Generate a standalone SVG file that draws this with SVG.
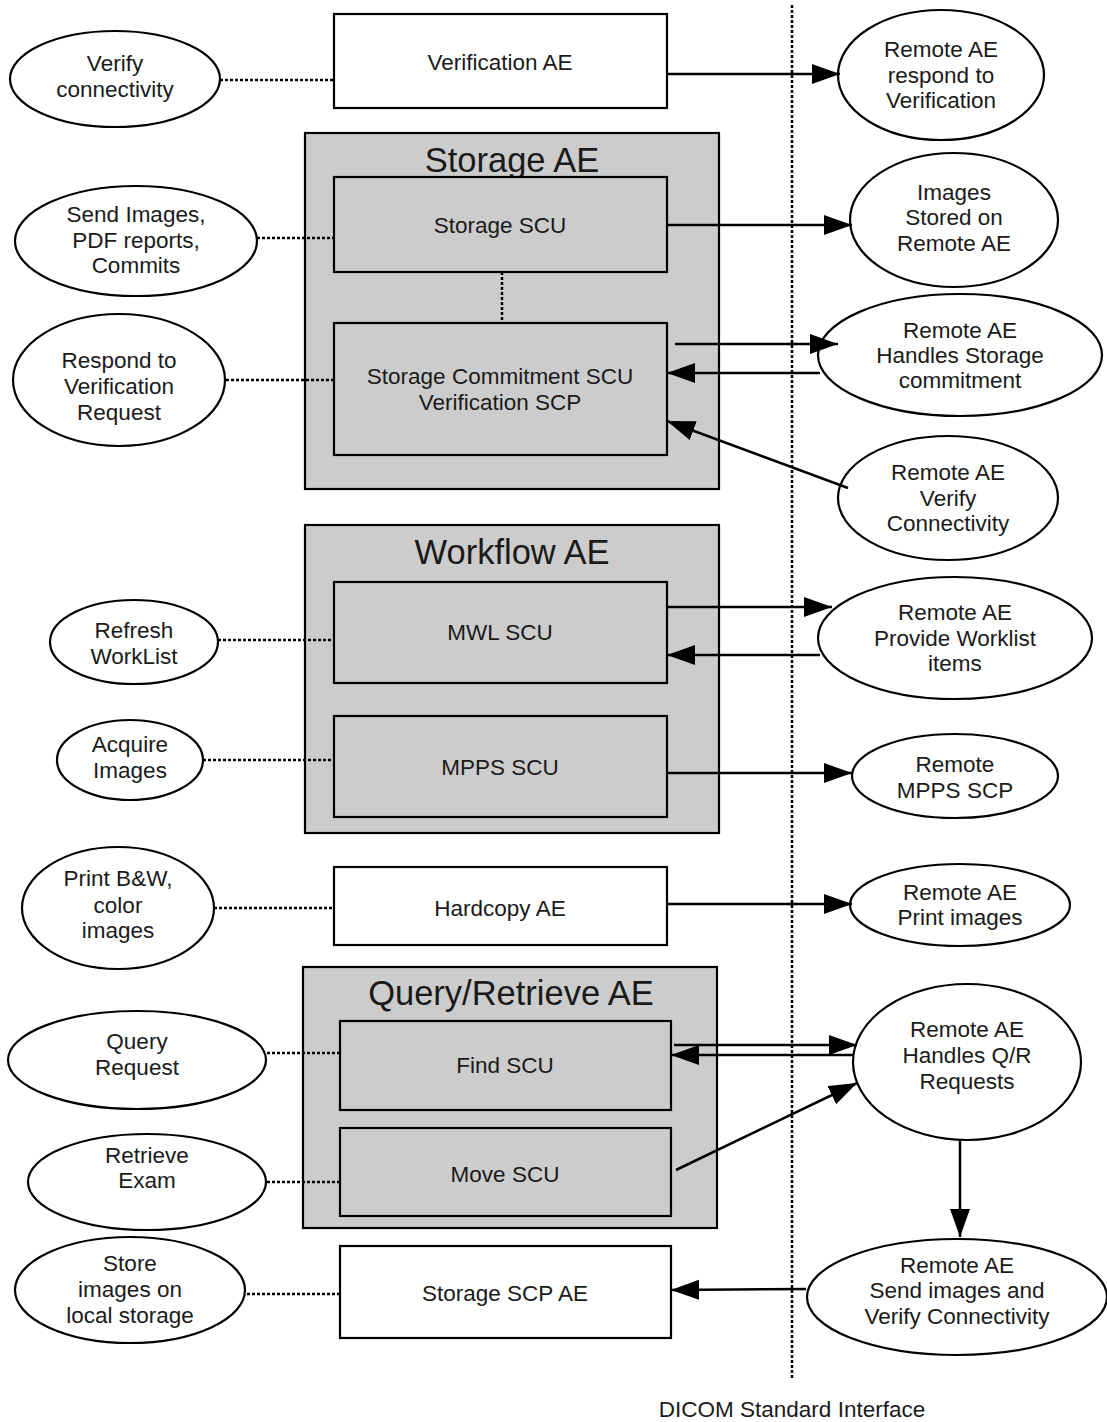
<svg xmlns="http://www.w3.org/2000/svg" width="1107" height="1422" viewBox="0 0 1107 1422">
<style>
text{font-family:"Liberation Sans",Arial,sans-serif;font-size:22.5px;fill:#1a1a1a;text-anchor:middle}
.t{font-size:34.5px}
.box{fill:#fff;stroke:#000;stroke-width:2.2}
.grp{fill:#cccccc;stroke:#000;stroke-width:2.2}
.sub{fill:#cccccc;stroke:#000;stroke-width:2.2}
ellipse{fill:#fff;stroke:#000;stroke-width:2.2}
.dot{stroke:#000;stroke-width:2.5;stroke-dasharray:3 2;fill:none}
.arr{stroke:#000;stroke-width:2.5;fill:none;marker-end:url(#ah)}
</style>
<defs>
<marker id="ah" markerUnits="userSpaceOnUse" markerWidth="30" markerHeight="22" refX="28" refY="10" orient="auto">
<path d="M0,0 L28,10 L0,20 Z" fill="#000"/>
</marker>
</defs>
<rect width="1107" height="1422" fill="#fff"/>

<g id="interface-line">
<line x1="792" y1="5" x2="792" y2="1378" class="dot"/>
<text x="792" y="1417">DICOM Standard Interface</text>
</g>

<g id="verification-ae"><rect class="box" x="334" y="14" width="333" height="94"/><text x="500" y="70">Verification AE</text></g>
<g id="verify-connectivity"><ellipse cx="115" cy="79" rx="105" ry="48"/><text x="115" y="71">Verify</text><text x="115" y="97">connectivity</text></g>
<g id="remote-verification"><ellipse cx="941" cy="75" rx="103" ry="65"/><text x="941" y="57">Remote AE</text><text x="941" y="83">respond to</text><text x="941" y="108">Verification</text></g>

<g id="storage-ae"><rect class="grp" x="305" y="133" width="414" height="356"/><text class="t" x="512" y="172">Storage AE</text></g>
<g id="storage-scu"><rect class="sub" x="334" y="177" width="333" height="95"/><text x="500" y="233">Storage SCU</text></g>
<g id="storage-commit"><rect class="sub" x="334" y="323" width="333" height="132"/><text x="500" y="384">Storage Commitment SCU</text><text x="500" y="410">Verification SCP</text></g>
<g id="send-images"><ellipse cx="136" cy="241" rx="121" ry="55"/><text x="136" y="222">Send Images,</text><text x="136" y="248">PDF reports,</text><text x="136" y="273">Commits</text></g>
<g id="respond-verification"><ellipse cx="119" cy="380" rx="106" ry="66"/><text x="119" y="368">Respond to</text><text x="119" y="394">Verification</text><text x="119" y="420">Request</text></g>
<g id="images-stored"><ellipse cx="954" cy="220" rx="104" ry="67"/><text x="954" y="200">Images</text><text x="954" y="225">Stored on</text><text x="954" y="251">Remote AE</text></g>
<g id="remote-commit"><ellipse cx="960" cy="355" rx="142" ry="61"/><text x="960" y="338">Remote AE</text><text x="960" y="363">Handles Storage</text><text x="960" y="388">commitment</text></g>
<g id="remote-verify"><ellipse cx="948" cy="498" rx="110" ry="62"/><text x="948" y="480">Remote AE</text><text x="948" y="506">Verify</text><text x="948" y="531">Connectivity</text></g>

<g id="workflow-ae"><rect class="grp" x="305" y="525" width="414" height="308"/><text class="t" x="512" y="564">Workflow AE</text></g>
<g id="mwl-scu"><rect class="sub" x="334" y="582" width="333" height="101"/><text x="500" y="640">MWL SCU</text></g>
<g id="mpps-scu"><rect class="sub" x="334" y="716" width="333" height="101"/><text x="500" y="775">MPPS SCU</text></g>
<g id="refresh-worklist"><ellipse cx="134" cy="642" rx="84" ry="42"/><text x="134" y="638">Refresh</text><text x="134" y="664">WorkList</text></g>
<g id="acquire-images"><ellipse cx="130" cy="760" rx="73" ry="40"/><text x="130" y="752">Acquire</text><text x="130" y="778">Images</text></g>
<g id="remote-worklist"><ellipse cx="955" cy="638" rx="137" ry="61"/><text x="955" y="620">Remote AE</text><text x="955" y="646">Provide Worklist</text><text x="955" y="671">items</text></g>
<g id="remote-mpps"><ellipse cx="955" cy="776" rx="103" ry="42"/><text x="955" y="772">Remote</text><text x="955" y="798">MPPS SCP</text></g>

<g id="hardcopy-ae"><rect class="box" x="334" y="867" width="333" height="78"/><text x="500" y="916">Hardcopy AE</text></g>
<g id="print-bw"><ellipse cx="118" cy="908" rx="96" ry="61"/><text x="118" y="886">Print B&amp;W,</text><text x="118" y="913">color</text><text x="118" y="938">images</text></g>
<g id="remote-print"><ellipse cx="960" cy="905" rx="110" ry="41"/><text x="960" y="900">Remote AE</text><text x="960" y="925">Print images</text></g>

<g id="qr-ae"><rect class="grp" x="303" y="967" width="414" height="261"/><text class="t" x="511" y="1005">Query/Retrieve AE</text></g>
<g id="find-scu"><rect class="sub" x="340" y="1021" width="331" height="89"/><text x="505" y="1073">Find SCU</text></g>
<g id="move-scu"><rect class="sub" x="340" y="1128" width="331" height="88"/><text x="505" y="1182">Move SCU</text></g>
<g id="query-request"><ellipse cx="137" cy="1060" rx="129" ry="49"/><text x="137" y="1049">Query</text><text x="137" y="1075">Request</text></g>
<g id="retrieve-exam"><ellipse cx="147" cy="1182" rx="119" ry="48"/><text x="147" y="1163">Retrieve</text><text x="147" y="1188">Exam</text></g>
<g id="remote-qr"><ellipse cx="967" cy="1062" rx="114" ry="78"/><text x="967" y="1037">Remote AE</text><text x="967" y="1063">Handles Q/R</text><text x="967" y="1089">Requests</text></g>

<g id="storage-scp-ae"><rect class="box" x="340" y="1246" width="331" height="92"/><text x="505" y="1301">Storage SCP AE</text></g>
<g id="store-local"><ellipse cx="130" cy="1290" rx="115" ry="53"/><text x="130" y="1271">Store</text><text x="130" y="1297">images on</text><text x="130" y="1323">local storage</text></g>
<g id="remote-send"><ellipse cx="957" cy="1297" rx="150" ry="58"/><text x="957" y="1273">Remote AE</text><text x="957" y="1298">Send images and</text><text x="957" y="1324">Verify Connectivity</text></g>

<g id="connectors">
<line class="dot" x1="220" y1="80" x2="334" y2="80"/>
<line class="dot" x1="257" y1="238" x2="334" y2="238"/>
<line class="dot" x1="502" y1="272" x2="502" y2="323"/>
<line class="dot" x1="226" y1="380" x2="334" y2="380"/>
<line class="dot" x1="218" y1="640" x2="334" y2="640"/>
<line class="dot" x1="203" y1="760" x2="334" y2="760"/>
<line class="dot" x1="214" y1="908" x2="334" y2="908"/>
<line class="dot" x1="267" y1="1053" x2="340" y2="1053"/>
<line class="dot" x1="267" y1="1182" x2="340" y2="1182"/>
<line class="dot" x1="247" y1="1294" x2="340" y2="1294"/>

<line class="arr" x1="667" y1="74" x2="840" y2="74"/>
<line class="arr" x1="667" y1="225" x2="852" y2="225"/>
<line class="arr" x1="675" y1="344" x2="838" y2="344"/>
<line class="arr" x1="820" y1="373" x2="667" y2="373"/>
<line class="arr" x1="848" y1="488" x2="667" y2="421"/>
<line class="arr" x1="667" y1="607" x2="832" y2="607"/>
<line class="arr" x1="820" y1="655" x2="667" y2="655"/>
<line class="arr" x1="667" y1="773" x2="852" y2="773"/>
<line class="arr" x1="667" y1="904" x2="852" y2="904"/>
<line class="arr" x1="674" y1="1045" x2="857" y2="1045"/>
<line class="arr" x1="853" y1="1055" x2="671" y2="1055"/>
<line class="arr" x1="676" y1="1170" x2="857" y2="1083"/>
<line class="arr" x1="960" y1="1140" x2="960" y2="1237"/>
<line class="arr" x1="806" y1="1289" x2="671" y2="1290"/>
</g>
</svg>
